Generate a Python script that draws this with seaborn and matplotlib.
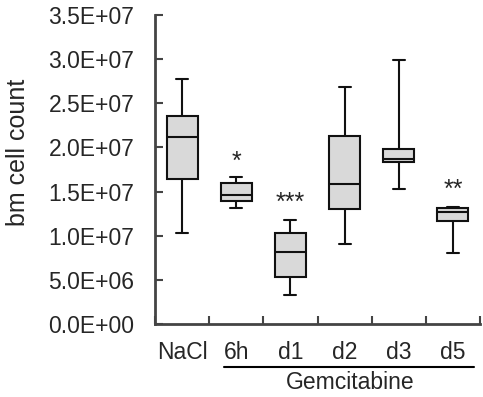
import numpy as np
import pandas as pd
import seaborn as sns
import matplotlib.pyplot as plt

# values: min, Q1, median, Q3, max for each group
groups = ['NaCl', '6h', 'd1', 'd2', 'd3', 'd5']
nacl = [1.03e7, 1.645e7, 2.12e7, 2.36e7, 2.78e7]
h6 = [1.31e7, 1.39e7, 1.464e7, 1.60e7, 1.67e7]
d1 = [0.33e7, 0.53e7, 0.82e7, 1.03e7, 1.18e7]
d2 = [0.905e7, 1.305e7, 1.59e7, 2.13e7, 2.69e7]
d3 = [1.53e7, 1.83e7, 1.87e7, 1.986e7, 2.985e7]
d5 = [0.80e7, 1.166e7, 1.27e7, 1.31e7, 1.32e7]

# significance marks and their heights
star_labels = ['', '*', '***', '', '', '**']
star_y = [0, 1.835e7, 1.375e7, 0, 0, 1.515e7]

yticks = np.arange(0, 3.51e7, 0.5e7)

data = pd.DataFrame({
    'group': np.repeat(groups, 5),
    'count': nacl + h6 + d1 + d2 + d3 + d5,
})

sns.set_style('ticks')
plt.rcParams['font.family'] = ['Liberation Sans', 'DejaVu Sans']

fig = plt.figure(figsize=(4.83, 3.97), dpi=100)
ax = fig.add_axes([0.3209, 0.1839, 0.6729, 0.7783])

sns.boxplot(data=data, x='group', y='count', order=groups, ax=ax,
            color='#d9d9d9', linecolor='#111111', linewidth=1.5,
            width=0.57, whis=(0, 100), saturation=1, capwidths=0.22)

for i, lab in enumerate(star_labels):
    if lab:
        ax.text(i, star_y[i], lab, ha='center', va='center', fontsize=18)

ax.set_xlim(-0.5, 5.5)
ax.set_ylim(0, 3.5e7)
ax.set_yticks(yticks)
ax.set_yticklabels([f'{v:.1E}' for v in yticks])
ax.set_xticks(np.arange(-0.5, 6, 1))
ax.set_xticklabels([])
ax.set_xticks(np.arange(6), minor=True)
ax.set_xticklabels(groups, minor=True)
ax.tick_params(axis='x', which='minor', length=0, pad=12, labelsize=16.5)
ax.tick_params(axis='x', which='major', direction='in', length=6, width=1.5, color='#444444')
ax.tick_params(axis='y', direction='in', length=6, width=1.5, color='#444444',
               pad=15, labelsize=16.5)
ax.set_xlabel('')
ax.set_ylabel('bm cell count', fontsize=18)
ax.yaxis.set_label_coords(-0.385, 0.555)

sns.despine(ax=ax)
for s in ['left', 'bottom']:
    ax.spines[s].set_color('#444444')
    ax.spines[s].set_linewidth(2)

# Gemcitabine bracket under 6h..d5
fig.add_artist(plt.Line2D([224 / 483, 474 / 483], [1 - 367 / 397, 1 - 367 / 397],
                          color='black', linewidth=1.5))
fig.text(350 / 483, 1 - 389 / 397, 'Gemcitabine', ha='center', va='baseline', fontsize=16.5)

fig.savefig('out.png', dpi=100)
